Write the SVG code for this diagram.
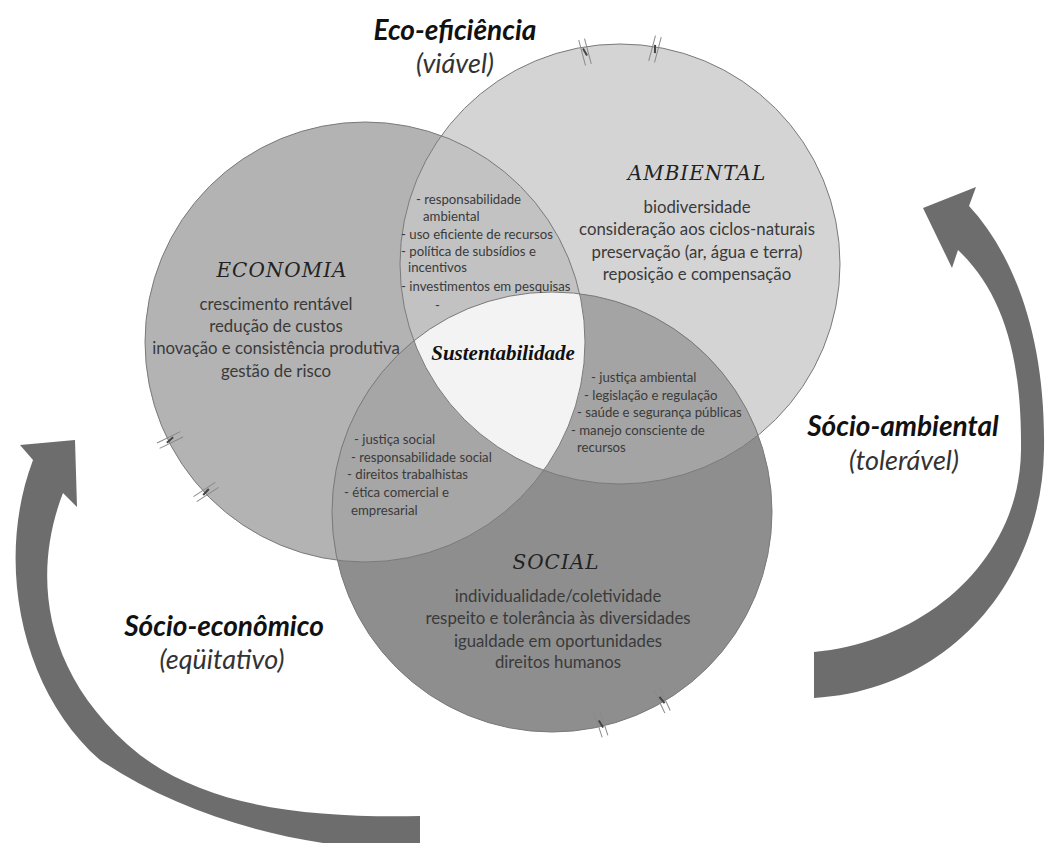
<svg xmlns="http://www.w3.org/2000/svg" width="1046" height="843" viewBox="0 0 1046 843">
<style>
.hd{font-family:"DejaVu Serif","Liberation Serif",serif;font-style:italic;font-size:20px;fill:#222;text-anchor:middle;letter-spacing:1px}
.bd{font-family:Lato,"Open Sans","Liberation Sans",sans-serif;font-size:16.8px;fill:#3a3a3a;text-anchor:middle}
.sm{font-family:Lato,"Open Sans","Liberation Sans",sans-serif;font-size:13.2px;fill:#3a3a3a}
.lb{font-family:Lato,"Open Sans","Liberation Sans",sans-serif;font-size:28px;font-weight:bold;font-style:italic;fill:#111;text-anchor:middle}
.ls{font-family:Lato,"Open Sans","Liberation Sans",sans-serif;font-size:27px;font-style:italic;fill:#333;text-anchor:middle}
.ol{fill:none;stroke:#7a7a7a;stroke-width:1}
.arr{fill:#6d6d6d}
.brk line{stroke:#8a8a8a;stroke-width:1}
.brk line.c{stroke:#444;stroke-width:2}
</style>
<defs>
<clipPath id="cE"><circle cx="365" cy="342" r="220"/></clipPath>
<clipPath id="cA"><circle cx="620" cy="264" r="220"/></clipPath>
<clipPath id="cS"><circle cx="552" cy="512" r="220"/></clipPath>
<g id="brk" class="brk"><line x1="-3" y1="-13" x2="-3" y2="13"/><line x1="3" y1="-13" x2="3" y2="13"/><line class="c" x1="-1" y1="-4" x2="1" y2="4"/></g>
</defs>
<rect width="1046" height="843" fill="#fff"/>

<g id="economia">
<circle cx="365" cy="342" r="220" fill="#b3b3b3"/>
</g>
<g id="ambiental">
<circle cx="620" cy="264" r="220" fill="#d4d4d4"/>
</g>
<g id="social">
<circle cx="552" cy="512" r="220" fill="#8e8e8e"/>
</g>
<g id="overlaps">
<circle cx="365" cy="342" r="220" fill="#c2c2c2" clip-path="url(#cA)"/>
<circle cx="552" cy="512" r="220" fill="#a6a6a6" clip-path="url(#cE)"/>
<circle cx="552" cy="512" r="220" fill="#a4a4a4" clip-path="url(#cA)"/>
<g clip-path="url(#cA)"><circle cx="365" cy="342" r="220" fill="#f3f3f3" clip-path="url(#cS)"/></g>
<circle class="ol" cx="365" cy="342" r="220"/>
<circle class="ol" cx="620" cy="264" r="220"/>
<circle class="ol" cx="552" cy="512" r="220"/>
</g>

<g id="marks">
<use href="#brk" transform="translate(585,52) rotate(-15)"/>
<use href="#brk" transform="translate(655,49) rotate(15)"/>
<use href="#brk" transform="translate(170,440) rotate(64)"/>
<use href="#brk" transform="translate(206,492) rotate(57)"/>
<use href="#brk" transform="translate(601,724) rotate(-18)"/>
<use href="#brk" transform="translate(662,700) rotate(-25)"/>
</g>

<g id="economia-text">
<text class="hd" x="282" y="277">ECONOMIA</text>
<text class="bd" x="276" y="310">crescimento rentável</text>
<text class="bd" x="276" y="332">redução de custos</text>
<text class="bd" x="276" y="354">inovação e consistência produtiva</text>
<text class="bd" x="276" y="377">gestão de risco</text>
</g>
<g id="ambiental-text">
<text class="hd" x="697" y="180">AMBIENTAL</text>
<text class="bd" x="697" y="213">biodiversidade</text>
<text class="bd" x="697" y="235">consideração aos ciclos-naturais</text>
<text class="bd" x="697" y="258">preservação (ar, água e terra)</text>
<text class="bd" x="697" y="280">reposição e compensação</text>
</g>
<g id="social-text">
<text class="hd" x="556" y="569">SOCIAL</text>
<text class="bd" x="558" y="602">individualidade/coletividade</text>
<text class="bd" x="558" y="624">respeito e tolerância às diversidades</text>
<text class="bd" x="558" y="647">igualdade em oportunidades</text>
<text class="bd" x="558" y="668">direitos humanos</text>
</g>
<g id="eco-amb">
<text class="sm" x="416" y="204">- responsabilidade</text>
<text class="sm" x="423" y="221">ambiental</text>
<text class="sm" x="401" y="239">- uso eficiente de recursos</text>
<text class="sm" x="401" y="256">- política de subsídios e</text>
<text class="sm" x="408" y="272">incentivos</text>
<text class="sm" x="401" y="291">- investimentos em pesquisas</text>
<text class="sm" x="435" y="310" font-size="8">-</text>
</g>
<g id="amb-soc">
<text class="sm" x="591" y="382">- justiça ambiental</text>
<text class="sm" x="584" y="400">- legislação e regulação</text>
<text class="sm" x="577" y="417">- saúde e segurança públicas</text>
<text class="sm" x="571" y="435">- manejo consciente de</text>
<text class="sm" x="577" y="452">recursos</text>
</g>
<g id="eco-soc">
<text class="sm" x="354" y="444">- justiça social</text>
<text class="sm" x="351" y="462">- responsabilidade social</text>
<text class="sm" x="347" y="479">- direitos trabalhistas</text>
<text class="sm" x="344" y="497">- ética comercial e</text>
<text class="sm" x="351" y="515">empresarial</text>
</g>
<g id="sustentabilidade">
<text x="503" y="360" font-family="'Liberation Serif',serif" font-size="21" font-weight="bold" font-style="italic" fill="#111" text-anchor="middle">Sustentabilidade</text>
</g>

<g id="connectors">
<path class="arr" d="M 75,440 L 77,507 L 63,493 C 35,565 35,670 140,755 C 210,808 310,818 420,816 L 420,852 C 300,848 190,820 100,760 C 20,690 -5,560 33,460 L 20,445 Z"/>
<path class="arr" d="M 923,208 L 976,187 L 969,206 C 1010,250 1046,330 1044,450 C 1042,580 950,690 814,698 L 814,652 C 925,642 1020,560 1021,450 C 1022,350 1000,290 958,250 L 952,268 Z"/>
</g>

<g id="label-eco-eficiencia">
<text class="lb" x="455" y="40">Eco-eficiência</text>
<text class="ls" x="455" y="73">(viável)</text>
</g>
<g id="label-socio-ambiental">
<text class="lb" x="903" y="436">Sócio-ambiental</text>
<text class="ls" x="904" y="470">(tolerável)</text>
</g>
<g id="label-socio-economico">
<text class="lb" x="224" y="636">Sócio-econômico</text>
<text class="ls" x="222" y="669">(eqüitativo)</text>
</g>
</svg>
